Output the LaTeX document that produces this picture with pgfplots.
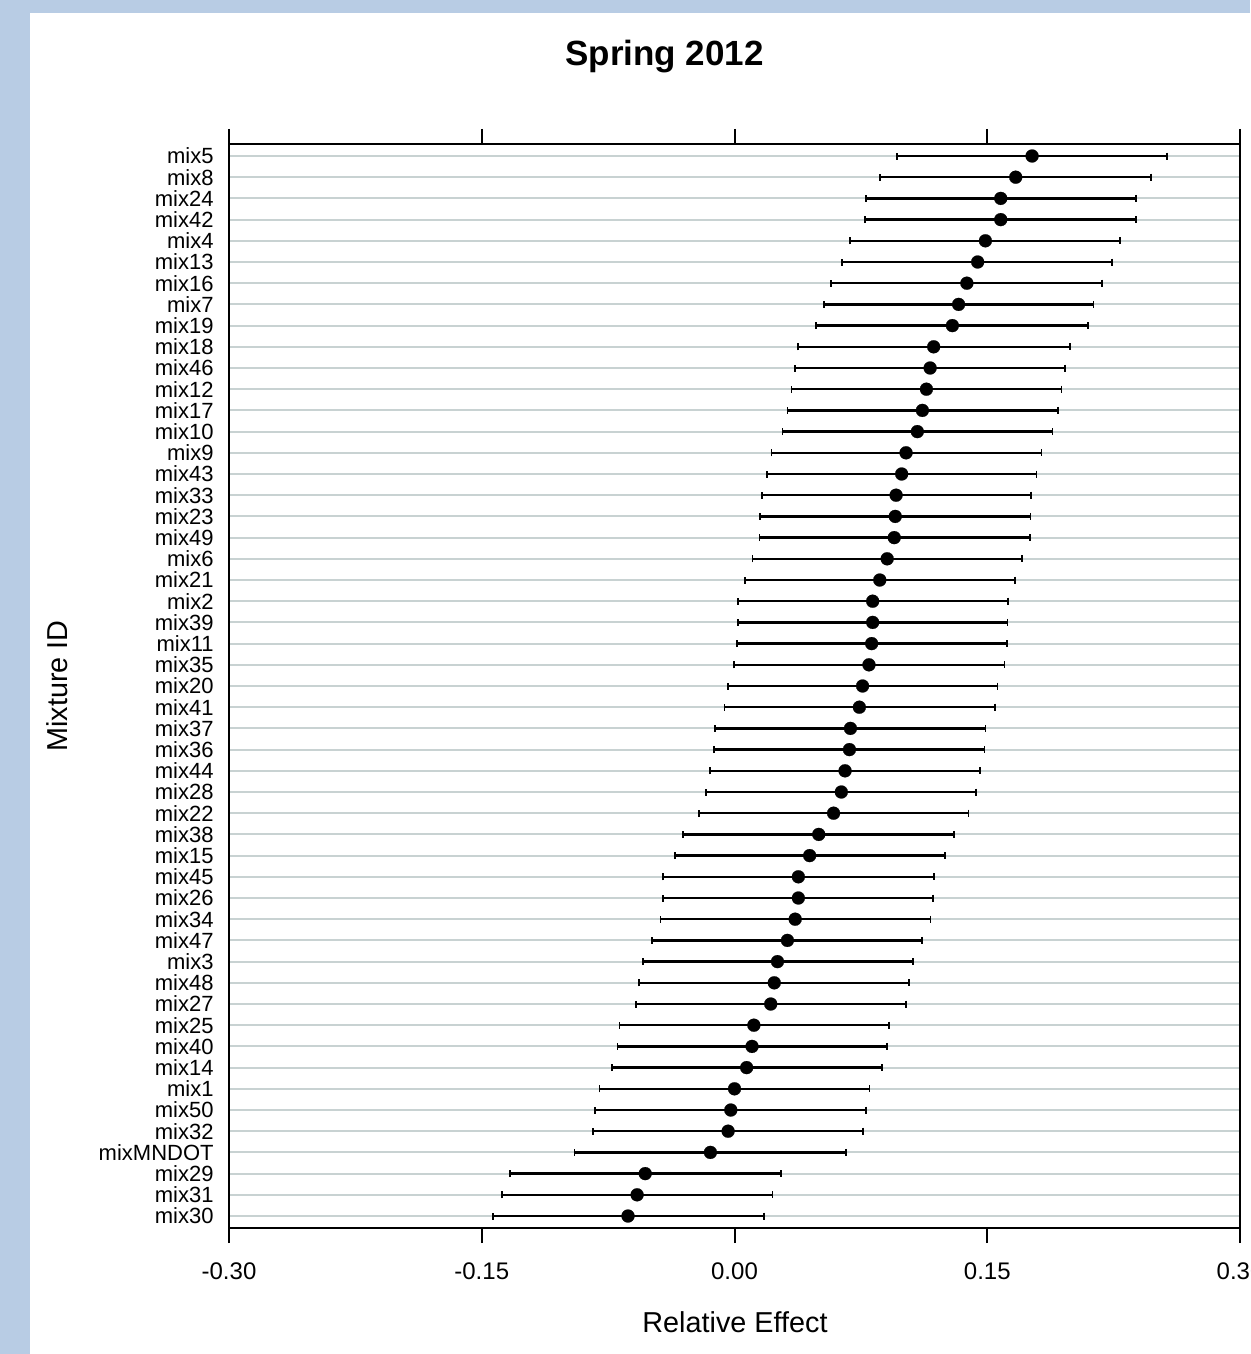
\documentclass[border=0pt]{standalone}
\usepackage{fontspec}
\setmainfont{Liberation Sans}
\usepackage{pgfplots}
\usepackage{pgfplotstable}
\pgfplotsset{compat=1.18}
\definecolor{bgblue}{RGB}{184,204,228}
\definecolor{gridgray}{RGB}{200,210,210}

\pgfplotstableread{
r L D R
1 0.0962 0.1766 0.2567
2 0.0865 0.1669 0.2470
3 0.0779 0.1580 0.2381
4 0.0776 0.1580 0.2381
5 0.0685 0.1489 0.2290
6 0.0639 0.1443 0.2242
7 0.0575 0.1379 0.2182
8 0.0532 0.1330 0.2131
9 0.0482 0.1293 0.2099
10 0.0379 0.1182 0.1989
11 0.0360 0.1161 0.1962
12 0.0338 0.1139 0.1940
13 0.0314 0.1115 0.1919
14 0.0285 0.1085 0.1887
15 0.0220 0.1018 0.1822
16 0.0191 0.0992 0.1792
17 0.0161 0.0959 0.1760
18 0.0153 0.0954 0.1757
19 0.0148 0.0948 0.1752
20 0.0107 0.0906 0.1706
21 0.0062 0.0862 0.1666
22 0.0021 0.0820 0.1623
23 0.0021 0.0820 0.1620
24 0.0016 0.0814 0.1618
25 -0.0001 0.0798 0.1602
26 -0.0040 0.0760 0.1561
27 -0.0059 0.0741 0.1548
28 -0.0116 0.0688 0.1489
29 -0.0121 0.0682 0.1484
30 -0.0145 0.0656 0.1459
31 -0.0167 0.0634 0.1435
32 -0.0210 0.0588 0.1389
33 -0.0304 0.0500 0.1303
34 -0.0355 0.0446 0.1249
35 -0.0423 0.0379 0.1182
36 -0.0423 0.0379 0.1180
37 -0.0439 0.0360 0.1163
38 -0.0490 0.0314 0.1115
39 -0.0543 0.0255 0.1059
40 -0.0565 0.0236 0.1037
41 -0.0586 0.0215 0.1018
42 -0.0683 0.0115 0.0919
43 -0.0694 0.0104 0.0906
44 -0.0729 0.0072 0.0873
45 -0.0801 0.0000 0.0801
46 -0.0826 -0.0022 0.0782
47 -0.0842 -0.0038 0.0763
48 -0.0949 -0.0143 0.0661
49 -0.1334 -0.0530 0.0277
50 -0.1382 -0.0578 0.0226
51 -0.1433 -0.0632 0.0177
}\mixdata

\begin{document}
\begin{tikzpicture}[x=1pt,y=1pt]
\path[use as bounding box] (0,0) rectangle (625,677);
\clip (0,0) rectangle (625,677);
\fill[bgblue] (0,0) rectangle (625,677);
\fill[white] (15,0) rectangle (625,670.5);
\begin{axis}[
  at={(114.5pt,63pt)}, anchor=south west,
  scale only axis, width=505.5pt, height=542pt,
  xmin=-0.3, xmax=0.3,
  ymin=0.434, ymax=51.566,
  y dir=reverse,
  clip=false,
  axis line style={line width=1pt, black},
  xtick={-0.3,-0.15,0,0.15,0.3},
  xticklabels={-0.30,-0.15,0.00,0.15,0.30},
  xtick pos=both, xticklabel pos=lower,
  tick align=outside,
  major tick length=7.5pt,
  xtick style={line width=1pt, black},
  xticklabel style={font=\fontsize{12}{14}\selectfont, inner sep=0pt, anchor=north},
  xticklabel shift=9.5pt,
  ytick={1,...,51},
  yticklabels={mix5,mix8,mix24,mix42,mix4,mix13,mix16,mix7,mix19,mix18,mix46,mix12,mix17,mix10,mix9,mix43,mix33,mix23,mix49,mix6,mix21,mix2,mix39,mix11,mix35,mix20,mix41,mix37,mix36,mix44,mix28,mix22,mix38,mix15,mix45,mix26,mix34,mix47,mix3,mix48,mix27,mix25,mix40,mix14,mix1,mix50,mix32,mixMNDOT,mix29,mix31,mix30},
  ytick style={draw=none},
  yticklabel style={font=\fontsize{11}{13}\selectfont, inner sep=0pt, anchor=east},
  ymajorgrids,
  major grid style={gridgray, line width=1pt},
  error bars/error bar style={line width=1.2pt, black, solid},
  error bars/error mark=|,
  error bars/error mark options={line width=0.9pt, mark size=1.75pt, black, solid},
]
\addplot[only marks, mark=*, mark size=3.25pt, black,
  mark options={fill=black, draw=black, line width=0.1pt},
  error bars/.cd, x dir=both, x explicit]
  table[x=D, y=r, x error plus expr=\thisrow{R}-\thisrow{D}, x error minus expr=\thisrow{D}-\thisrow{L}] {\mixdata};
\end{axis}
\node[anchor=base, font=\bfseries\fontsize{17.5}{20}\selectfont] at (332.25,644) {Spring 2012};
\node[font=\fontsize{14.4}{17}\selectfont] at (367.5,16) {Relative Effect};
\node[rotate=90, font=\fontsize{14.4}{17}\selectfont] at (28.5,334) {Mixture ID};
\end{tikzpicture}
\end{document}
